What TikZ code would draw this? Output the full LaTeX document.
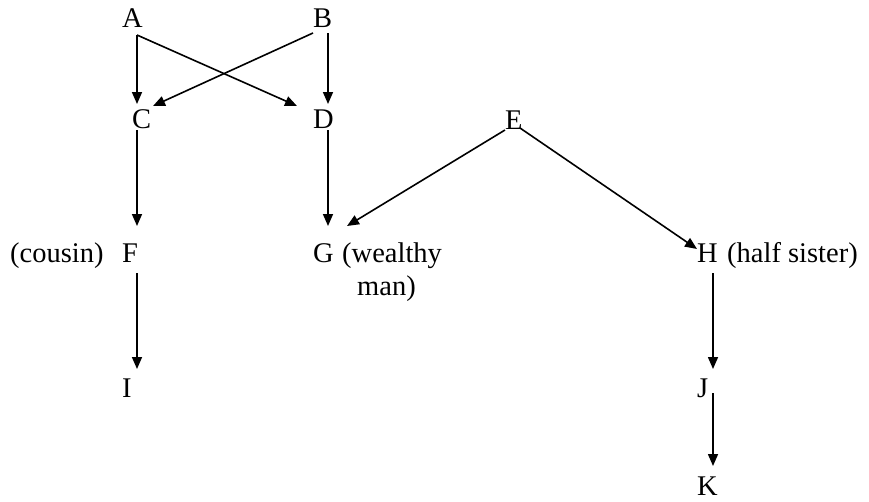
\documentclass[tikz,border=0pt]{standalone}
\usepackage{fontspec}
\setmainfont{Liberation Serif}
\usetikzlibrary{arrows.meta}
\begin{document}
\begin{tikzpicture}[x=1pt,y=-1pt,
  lbl/.style={anchor=base west,inner sep=0pt,font=\fontsize{28.5}{33}\selectfont},
  arr/.style={line width=1.6pt,-{Triangle[length=12pt,width=10pt]}}]
\path[use as bounding box] (0,0) rectangle (869,501);
% letters
\node[lbl] (A) at (122,27) {A};
\node[lbl] (B) at (313,27) {B};
\node[lbl] (C) at (132,128) {C};
\node[lbl] (D) at (313,128) {D};
\node[lbl] (E) at (505,129) {E};
\node[lbl] (cous) at (10,262) {(cousin)};
\node[lbl] (F) at (122,262) {F};
\node[lbl] (G) at (313,262) {G};
\node[lbl] (wea) at (342,262) {(wealthy};
\node[lbl] (man) at (357,295) {man)};
\node[lbl] (H) at (697,262) {H};
\node[lbl] (half) at (727,262) {(half sister)};
\node[lbl] (I) at (122,397) {I};
\node[lbl] (J) at (697,397) {J};
\node[lbl] (K) at (697,495) {K};
% connector ends
\coordinate (Aout) at (137,35);
\coordinate (Bl) at (313,33);
\coordinate (Br) at (328,33);
\coordinate (Cin) at (137,104);
\coordinate (Cin2) at (153,106);
\coordinate (Din) at (328,104);
\coordinate (Din2) at (297,106);
\coordinate (Cout) at (137,130);
\coordinate (Dout) at (328,130);
\coordinate (Eleft) at (505,130);
\coordinate (Eright) at (520,128);
\coordinate (Fin) at (137,226);
\coordinate (Gin) at (328,226);
\coordinate (Gin2) at (347,226);
\coordinate (Hin) at (697,249);
\coordinate (Fout) at (137,273);
\coordinate (Hout) at (713,273);
\coordinate (Iin) at (137,369);
\coordinate (Jin) at (713,369);
\coordinate (Jout) at (713,393);
\coordinate (Kin) at (713,466);
% connectors
\draw[arr] (Aout) -- (Cin);
\draw[arr] (Aout) -- (Din2);
\draw[arr] (Bl) -- (Cin2);
\draw[arr] (Br) -- (Din);
\draw[arr] (Cout) -- (Fin);
\draw[arr] (Dout) -- (Gin);
\draw[arr] (Eleft) -- (Gin2);
\draw[arr] (Eright) -- (Hin);
\draw[arr] (Fout) -- (Iin);
\draw[arr] (Hout) -- (Jin);
\draw[arr] (Jout) -- (Kin);
\end{tikzpicture}
\end{document}
